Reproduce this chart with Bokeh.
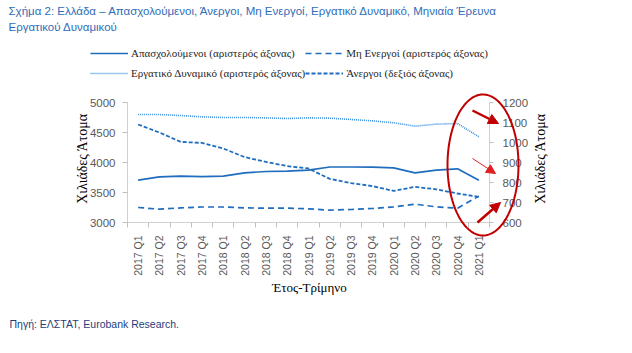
import math
import numpy as np
from bokeh.plotting import figure
from bokeh.models import (Range1d, LinearAxis, FixedTicker, Legend, LegendItem,
                          Label, Arrow, NormalHead, PolyAnnotation)
from bokeh.embed import file_html
from bokeh.resources import INLINE

quarters = ["2017 Q1", "2017 Q2", "2017 Q3", "2017 Q4",
            "2018 Q1", "2018 Q2", "2018 Q3", "2018 Q4",
            "2019 Q1", "2019 Q2", "2019 Q3", "2019 Q4",
            "2020 Q1", "2020 Q2", "2020 Q3", "2020 Q4",
            "2021 Q1"]
employed = [3706, 3761, 3772, 3763, 3772, 3828, 3850, 3855,
            3872, 3925, 3925, 3922, 3911, 3828, 3872, 3894, 3706]
inactive = [3250, 3222, 3244, 3258, 3258, 3244, 3239, 3239,
            3228, 3206, 3217, 3233, 3261, 3306, 3261, 3239, 3439]
labour_force = [4800, 4800, 4783, 4761, 4750, 4750, 4744, 4733,
                4744, 4739, 4717, 4694, 4661, 4606, 4639, 4650, 4428]
unemployed = [1090, 1050, 1003, 998, 970, 927, 903, 882,
              870, 818, 797, 782, 758, 778, 766, 745, 728]
left_ticks = [3000, 3500, 4000, 4500, 5000]
right_ticks = [600, 700, 800, 900, 1000, 1100, 1200]
left_lim = (3000, 5000)
right_lim = (600, 1200)

BLUE = "#1F6DBF"
LBLUE = "#3A8DDE"
RED = "#C00000"
GRAY = "#595959"

W, H = 632, 353
# pixel box of the plotting area (axes drawn at fixed locations, frame = whole canvas)
FL, FR, FT, FB = 127, 489, 102, 222

n = len(quarters)
x_pos = [i + 0.5 for i in range(n)]          # category centres
kx = (FR - FL) / n                            # px per category
kl = (FB - FT) / (left_lim[1] - left_lim[0])  # px per left unit
kr = (FB - FT) / (right_lim[1] - right_lim[0])

p = figure(width=W, height=H,
           x_range=Range1d(-FL / kx, n + (W - FR) / kx),
           y_range=Range1d(left_lim[0] - (H - FB) / kl, left_lim[1] + FT / kl),
           x_axis_type=None, y_axis_type=None, title_location=None,
           output_backend="svg", toolbar_location=None, tools="")
p.min_border_left = 0
p.min_border_right = 0
p.min_border_top = 0
p.min_border_bottom = 0
p.outline_line_color = None
p.background_fill_color = "white"
p.border_fill_color = "white"
p.grid.visible = False
p.extra_y_ranges = {"right": Range1d(right_lim[0] - (H - FB) / kr, right_lim[1] + FT / kr)}

xaxis = LinearAxis(ticker=FixedTicker(ticks=x_pos, minor_ticks=list(range(n + 1))),
                   major_label_overrides={c: q for c, q in zip(x_pos, quarters)},
                   fixed_location=left_lim[0], bounds=(0, n))
xaxis.major_label_orientation = math.pi / 2
xaxis.major_tick_out = 0
xaxis.major_tick_in = 0
xaxis.minor_tick_out = 5
xaxis.minor_tick_in = 0
xaxis.minor_tick_line_color = "#BFBFBF"
xaxis.axis_line_color = "#D0D0D0"
xaxis.major_label_standoff = 8
xaxis.major_label_text_font = "Liberation Sans"
xaxis.major_label_text_font_size = "10.5px"
xaxis.major_label_text_color = GRAY
p.add_layout(xaxis, "below")

laxis = LinearAxis(ticker=FixedTicker(ticks=left_ticks), fixed_location=0, bounds=left_lim)
raxis = LinearAxis(ticker=FixedTicker(ticks=right_ticks), y_range_name="right",
                   fixed_location=n, bounds=right_lim)
for ax in (laxis, raxis):
    ax.major_tick_in = 0
    ax.major_tick_out = 5
    ax.minor_tick_out = 0
    ax.minor_tick_in = 0
    ax.major_tick_line_color = "#BFBFBF"
    ax.axis_line_color = "#D0D0D0"
    ax.major_label_text_font = "Liberation Sans"
    ax.major_label_text_font_size = "11.5px"
    ax.major_label_text_color = GRAY
laxis.major_label_standoff = 7
raxis.major_label_standoff = 9
raxis.major_tick_out = 4
p.add_layout(laxis, "left")
p.add_layout(raxis, "right")

r_emp = p.line(x_pos, employed, line_color=BLUE, line_width=1.7)
r_inact = p.line(x_pos, inactive, line_color=BLUE, line_width=1.7, line_dash="6 4")
r_lf = p.line(x_pos, labour_force, line_color=LBLUE, line_width=1.6, line_dash="1 1")
r_unemp = p.line(x_pos, unemployed, line_color=BLUE, line_width=1.8, line_dash="4 2",
                 y_range_name="right")

legend = Legend(items=[
    LegendItem(label="Απασχολούμενοι (αριστερός άξονας)", renderers=[r_emp]),
    LegendItem(label="Μη Ενεργοί (αριστερός άξονας)", renderers=[r_inact]),
    LegendItem(label="Εργατικό Δυναμικό (αριστερός άξονας)", renderers=[r_lf]),
    LegendItem(label="Άνεργοι (δεξιός άξονας)", renderers=[r_unemp]),
], orientation="horizontal", ncols=2, location=(90, H - 83))
legend.padding = 0
legend.margin = 0
legend.spacing = 0
legend.border_line_color = None
legend.background_fill_alpha = 0
legend.glyph_width = 38
legend.glyph_height = 20
legend.label_height = 20
legend.label_standoff = 3
legend.label_text_font = "Liberation Serif"
legend.label_text_font_size = "11px"
legend.label_text_color = "#262626"
p.add_layout(legend, "center")

def lab(text, px, py, **kw):
    p.add_layout(Label(text=text, x=px, y=H - py, x_units="screen", y_units="screen",
                       text_baseline="middle", **kw))

lab("Σχήμα 2: Ελλάδα – Απασχολούμενοι, Άνεργοι, Μη Ενεργοί, Εργατικό Δυναμικό, Μηνιαία Έρευνα",
    8, 10, text_font="Liberation Sans", text_font_size="11.5px", text_color="#2F6DB8")
lab("Εργατικού Δυναμικού", 8, 26, text_font="Liberation Sans", text_font_size="11.5px",
    text_color="#2F6DB8")
lab("Πηγή: ΕΛΣΤΑΤ, Eurobank Research.", 9, 323, text_font="Liberation Sans",
    text_font_size="10.5px", text_color="#1F3D7A")
for px in (82, 540):
    lab("Χιλιάδες Άτομα", px, 158, text_font="Liberation Serif", text_font_size="14px",
        text_color="#000000", angle=math.pi / 2, text_align="center")
lab("Έτος-Τρίμηνο", 309, 287, text_font="Liberation Serif", text_font_size="13px",
    text_color="#000000", text_align="center")

# red highlight ellipse and arrows (annotation decorations)
def sx(px):
    return (px - FL) / kx

def sy(py):
    return left_lim[0] + (FB - py) / kl

cx, cy, a, b = sx(482.5), sy(164.5), 35.5 / kx, 70.5 / kl
t = np.linspace(0, 2 * np.pi, 90)
p.add_layout(PolyAnnotation(xs=list(cx + a * np.cos(t)), ys=list(cy + b * np.sin(t)),
                            fill_alpha=0, line_color=RED, line_alpha=1.0, line_width=2))
for (x0, y0, x1, y1, lw, sz, col) in [(472, 110, 498, 123, 2.5, 10, RED),
                                      (472, 158, 495, 173, 1.0, 9, "#E02020"),
                                      (477, 222, 500, 202, 2.5, 10, RED)]:
    p.add_layout(Arrow(x_start=sx(x0), y_start=sy(y0), x_end=sx(x1), y_end=sy(y1),
                       line_color=col, line_width=lw,
                       end=NormalHead(size=sz, fill_color=col, line_color=col)))

open("out.html", "w").write(file_html(p, INLINE))
